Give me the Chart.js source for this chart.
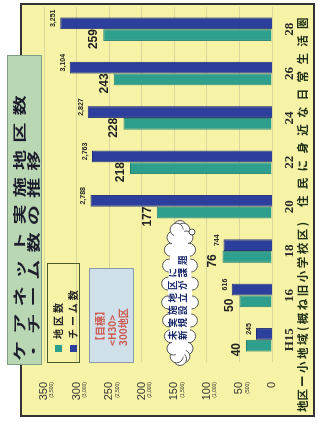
<!DOCTYPE html>
<html>
<head>
<meta charset="utf-8">
<script src="https://cdn.jsdelivr.net/npm/chart.js@4/dist/chart.umd.min.js"></script>
<style>
html, body { margin: 0; padding: 0; background: #fff; width: 318px; height: 428px; overflow: hidden; }
/* the chart is drawn upright (428x318) and turned a quarter left */
#stage { position: absolute; left: 0; top: 0; width: 428px; height: 318px;
  transform-origin: 0 0; transform: translate(0, 428px) rotate(-90deg);
  font-family: "Noto Sans CJK JP", sans-serif; }
#frame { position: absolute; left: 11px; top: 20px; width: 410px; height: 291px;
  background: #f7f3a6; border: 2px solid #333; }
#chart { position: absolute; left: 0; top: 0; }
#title { position: absolute; left: 63px; top: 7px; width: 310px; height: 35px; box-sizing: border-box;
  background: #b9d7b3; border: 1px solid #7f9c84; color: #1c1c2c; font-weight: 700; font-size: 13px; }
#title span { position: absolute; left: 3px; white-space: nowrap; line-height: 13px;
  letter-spacing: 4.6px; transform-origin: 0 50%; transform: scaleX(1.55); }
#legend { position: absolute; left: 65px; top: 47px; width: 100px; height: 33px; box-sizing: border-box;
  border: 1.5px solid #4b5a2b; font-size: 10px; font-weight: 700; color: #222; }
#legend .row { position: absolute; left: 10px; line-height: 11px; white-space: nowrap; letter-spacing: 3px; }
#legend i { display: inline-block; width: 7px; height: 7px; margin-right: 6px; vertical-align: 0; }
#goal { position: absolute; left: 65px; top: 89px; width: 95px; height: 45px; box-sizing: border-box;
  background: #cfe0ea; border: 1px solid #8a9aa8; color: #cf5a50; font-size: 10px; font-weight: 700;
  padding: 4px 0 0 16px; line-height: 11.5px; }
#cloud { position: absolute; left: 0; top: 0; }
#cloudText { position: absolute; left: 88px; top: 167px; font-size: 9.5px; font-weight: 700; color: #1b2a6a;
  line-height: 10px; letter-spacing: 3px; white-space: nowrap; }
#note { position: absolute; left: 0; top: 295px; width: 428px; height: 14px; font-size: 11.5px;
  font-weight: 700; color: #203018; white-space: nowrap; }
#note span { position: absolute; top: 0; line-height: 14px; }
</style>
</head>
<body>
<div id="stage">
  <div id="frame"></div>
  <canvas id="chart" width="428" height="318"></canvas>
  <div id="title">
    <span style="top:4px">ケアネット実施地区数</span>
    <span style="top:18px">・チーム数の推移</span>
  </div>
  <div id="legend">
    <div class="row" style="top:4px"><i style="background:#2e9e8d"></i>地区数</div>
    <div class="row" style="top:19px"><i style="background:#2c3f9c"></i>チーム数</div>
  </div>
  <div id="goal">
    <div>【目標】</div>
    <div>&lt;H30&gt;</div>
    <div>300地区</div>
  </div>
  <svg id="cloud" width="428" height="318"></svg>
  <div id="cloudText">未実施地区に<br>新規設立が課題</div>
  <div id="note">
    <span style="left:16px">地区</span>
    <span style="left:41px; letter-spacing:2.5px">ー小地域(概ね旧小学校区)</span>
    <span style="left:221px; letter-spacing:6.3px">住民に身近な日常生活圏</span>
  </div>
</div>
<script>
const categories = ['H15', '16', '18', '20', '22', '24', '26', '28'];
const districts = [40, 50, 76, 177, 218, 228, 243, 259];
const teams = [245, 616, 744, 2788, 2763, 2827, 3104, 3251];
const districtTicks = [0, 50, 100, 150, 200, 250, 300, 350];
const teamTicks = [0, 500, 1000, 1500, 2000, 2500, 3000, 3500];

const tealColor = '#2e9e8d';
const blueColor = '#2c3f9c';

// value labels, axis labels drawn on top of the bars
const labelPlugin = {
    id: 'labels',
    afterDatasetsDraw(chart) {
        const ctx = chart.ctx;
        const area = chart.chartArea;
        ctx.save();
        ctx.fillStyle = '#222';
        ctx.textAlign = 'center';
        ctx.textBaseline = 'alphabetic';

        chart.getDatasetMeta(0).data.forEach((bar, i) => {
            ctx.font = 'bold 12px "Liberation Sans"';
            ctx.fillText(String(districts[i]), bar.x - 4, bar.y - 6);
        });
        chart.getDatasetMeta(1).data.forEach((bar, i) => {
            ctx.font = 'bold 7px "Liberation Sans"';
            ctx.fillText(teams[i].toLocaleString('en-US'), bar.x + 5, bar.y - 5);
        });

        // value axis: district count with team count underneath
        const y = chart.scales.y;
        ctx.textAlign = 'right';
        ctx.textBaseline = 'middle';
        districtTicks.forEach((v, i) => {
            const py = y.getPixelForValue(v);
            ctx.font = '11px "Liberation Sans"';
            ctx.fillStyle = '#333';
            ctx.fillText(String(v), area.left - 20, py);
            if (teamTicks[i] > 0) {
                ctx.font = '5px "Liberation Sans"';
                ctx.fillText('(' + teamTicks[i].toLocaleString('en-US') + ')', area.left - 20, py + 8);
            }
        });

        // category axis
        const x = chart.scales.x;
        ctx.textAlign = 'center';
        ctx.font = 'bold 13px "Liberation Serif"';
        ctx.fillStyle = '#2a2a2a';
        categories.forEach((c, i) => {
            ctx.fillText(c, x.getPixelForValue(i), area.bottom + 18);
        });
        ctx.restore();
    }
};

const ctx = document.getElementById('chart').getContext('2d');
const myChart = new Chart(ctx, {
    type: 'bar',
    data: {
        labels: categories,
        datasets: [
            {
                label: '地区数',
                data: districts,
                backgroundColor: tealColor,
                borderColor: '#23806f',
                borderWidth: 1,
                yAxisID: 'y'
            },
            {
                label: 'チーム数',
                data: teams,
                backgroundColor: blueColor,
                borderColor: '#1d2b74',
                borderWidth: 1,
                yAxisID: 'y2'
            }
        ]
    },
    options: {
        responsive: false,
        animation: false,
        layout: { padding: { left: 66, right: 7, top: 44, bottom: 46 } },
        datasets: { bar: { categoryPercentage: 0.53, barPercentage: 1 } },
        plugins: { legend: { display: false }, tooltip: { enabled: false } },
        scales: {
            x: {
                grid: { display: false, drawTicks: false },
                ticks: { display: false },
                border: { display: false }
            },
            y: {
                min: 0,
                max: 350,
                ticks: { display: false, stepSize: 50 },
                grid: { color: '#d9d69e', drawTicks: false },
                border: { display: false }
            },
            y2: { display: false, min: 0, max: 3500 }
        }
    },
    plugins: [labelPlugin]
});

// speech cloud behind the note
const svg = document.getElementById('cloud');
const cx = 135, cy = 180, rx = 66, ry = 12;
let shapes = '';
for (let k = 0; k < 22; k++) {
    const a = k / 22 * Math.PI * 2;
    shapes += `<circle cx="${cx + rx * Math.cos(a)}" cy="${cy + ry * Math.sin(a)}" r="6.5" fill="#fff" stroke="#555" stroke-width="1"/>`;
}
shapes += `<ellipse cx="${cx}" cy="${cy}" rx="${rx}" ry="${ry}" fill="#fff"/>`;
shapes += `<circle cx="196" cy="192" r="3" fill="#fff" stroke="#555" stroke-width="1"/>`;
svg.innerHTML = shapes;
</script>
</body>
</html>
